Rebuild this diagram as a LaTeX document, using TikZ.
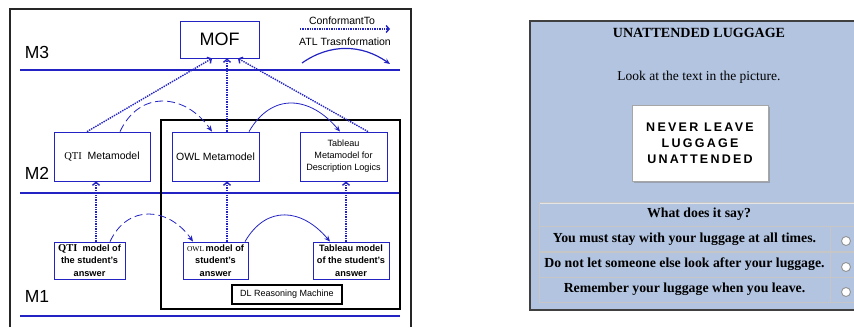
\documentclass[tikz,border=0pt]{standalone}
\usepackage{fontspec}
\setmainfont{Liberation Sans}
\newfontfamily\serif{Liberation Serif}
\newfontfamily\signfont[LetterSpace=18]{Liberation Sans}
\usetikzlibrary{arrows.meta,shadows}

\definecolor{mdeblue}{RGB}{35,35,195}
\definecolor{panelblue}{RGB}{178,196,224}

\tikzset{
	levelline/.style={mdeblue, line width=1.5pt},
	mbox/.style={draw=mdeblue, line width=0.8pt, fill=white, align=center, inner sep=1pt, font=\fontsize{10.5}{12}\selectfont},
	modelbox/.style={mbox, font=\fontsize{9.2}{12.5}\selectfont\bfseries},
	conf/.style={mdeblue, densely dotted, line width=1.4pt, -{Straight Barb[length=3pt,width=7pt]}},
	atl/.style={mdeblue, line width=0.8pt, -{Stealth[length=6pt,width=5pt]}},
	levellabel/.style={font=\fontsize{17.5}{18}\selectfont},
	quiz/.style={font=\fontsize{13.8}{16}\selectfont\serif\bfseries},
	cellline/.style={draw=gray!45, line width=1pt},
	radio/.style={fill=white, draw=gray!85, line width=0.9pt}
}

\begin{document}
\begin{tikzpicture}[x=1pt, y=-1pt]
	\useasboundingbox (0,0) rectangle (854,327);

	% left picture: MDE levels
	\draw[black!85, line width=1.3pt] (10,327) -- (10,9) -- (411,9) -- (411,327);
	\draw[levelline] (20,70) -- (400,70);
	\draw[levelline] (20,193) -- (400,193);
	\draw[levelline] (20,316) -- (400,316);
	\node[levellabel] (m3) at (37,52) {M3};
	\node[levellabel] (m2) at (37,173) {M2};
	\node[levellabel] (m1) at (37,296) {M1};

	\draw[black, line width=2pt] (161,120) rectangle (400,309);

	\node[mbox, minimum width=79pt, minimum height=37pt, font=\fontsize{18}{20}\selectfont] (mof) at (219.5,39.5) {MOF};
	\node[mbox, minimum width=96pt, minimum height=49pt] (qtimeta) at (102,156.5) {{\serif QTI}\ \ Metamodel};
	\node[mbox, minimum width=87pt, minimum height=49pt] (owlmeta) at (215.5,156.5) {OWL Metamodel};
	\node[mbox, minimum width=87pt, minimum height=49pt, font=\fontsize{9.1}{12}\selectfont] (tabmeta) at (343.5,156.5) {Tableau\\Metamodel for\\Description Logics};

	\node[modelbox, minimum width=71pt, minimum height=37pt] (qtimodel) at (89.5,260.5) {{\serif\fontsize{10.5}{12}\selectfont QTI}\ \ model of\\the student's\\answer};
	\node[modelbox, minimum width=65pt, minimum height=37pt] (owlmodel) at (215.5,260.5) {{\serif\mdseries\fontsize{7.5}{12}\selectfont OWL}\,model of\\student's\\answer};
	\node[modelbox, minimum width=76pt, minimum height=37pt] (tabmodel) at (351,260.5) {Tableau model\\of the student's\\answer};
	\node[draw=black, line width=1.3pt, minimum width=110pt, minimum height=19pt, inner sep=1pt, font=\fontsize{9}{10}\selectfont] (dlrm) at (287,294.5) {DL Reasoning Machine};

	% conformance
	\draw[conf] ([xshift=-15pt]qtimeta.north) -- ([xshift=-7.5pt]mof.south);
	\draw[conf] ([xshift=11.5pt]owlmeta.north) -- ([xshift=7.5pt]mof.south);
	\draw[conf] ([xshift=24.5pt]tabmeta.north) -- ([xshift=18.5pt]mof.south);
	\draw[conf] ([xshift=6.5pt]qtimodel.north) -- ([xshift=-6pt]qtimeta.south);
	\draw[conf] ([xshift=11.5pt]owlmodel.north) -- ([xshift=11.5pt]owlmeta.south);
	\draw[conf] ([xshift=-5pt]tabmodel.north) -- ([xshift=2.5pt]tabmeta.south);

	% transformations
	\draw[atl, dash pattern=on 8pt off 4pt] ([xshift=18pt]qtimeta.north) to[out=65, in=125, looseness=1.3] ([xshift=-3.5pt]owlmeta.north);
	\draw[atl] ([xshift=33.5pt]owlmeta.north) to[out=60, in=130, looseness=1.3] ([xshift=-3.5pt]tabmeta.north);
	\draw[atl, dash pattern=on 8pt off 4pt] ([xshift=20.5pt]qtimodel.north) to[out=65, in=125, looseness=1.3] ([xshift=-22.5pt]owlmodel.north);
	\draw[atl] ([xshift=29.5pt]owlmodel.north) to[out=60, in=130, looseness=1.3] ([xshift=-21pt]tabmodel.north);

	% legend
	\node[font=\fontsize{10.5}{12}\selectfont] (conftext) at (342,21) {ConformantTo};
	\coordinate (confA) at (300,29);
	\coordinate (confB) at (390,29);
	\draw[conf] (confA) -- (confB);
	\node[font=\fontsize{10.5}{12}\selectfont] (atltext) at (345,42) {ATL Trasnformation};
	\coordinate (atlA) at (302,63);
	\coordinate (atlB) at (390,64);
	\draw[atl, line width=1.2pt] (atlA) to[out=35, in=145] (atlB);

	% right picture: quiz item
	\begin{scope}
		\clip (0,0) rectangle (854,327);
		\draw[black!75, line width=1.2pt, fill=panelblue] (530,21) rectangle (880,310);
		\node[font=\fontsize{14}{16}\selectfont\serif\bfseries] (title) at (699,33) {UNATTENDED LUGGAGE};
		\node[font=\fontsize{13.5}{16}\selectfont\serif] (instr) at (699,77) {Look at the text in the picture.};
		\node[draw=gray!70, fill=white, line width=0.8pt, minimum width=136pt, minimum height=76pt, align=center,
			drop shadow={shadow xshift=1.5pt, shadow yshift=-1.5pt, fill=black!50},
			font=\fontsize{12.5}{16}\selectfont\signfont\bfseries] (sign) at (700,143) {NEVER LEAVE\\LUGGAGE\\UNATTENDED};

		\draw[cellline] (539,202) rectangle (880,226);
		\foreach \y in {226,252,277} {
			\draw[cellline] (539,\y) rectangle (830,\y+25);
			\draw[cellline] (830,\y) rectangle (880,\y+25);
			\draw[radio] (846,\y+15) circle (4.5pt);
		}
		\draw[gray!20, line width=0.6pt] (540,203) -- (879,203);
		\node[quiz] (question) at (699,214) {What does it say?};
		\node[quiz] (optA) at (684.5,239) {You must stay with your luggage at all times.};
		\node[quiz] (optB) at (684.5,264.5) {Do not let someone else look after your luggage.};
		\node[quiz] (optC) at (684.5,289.5) {Remember your luggage when you leave.};
	\end{scope}
\end{tikzpicture}
\end{document}
